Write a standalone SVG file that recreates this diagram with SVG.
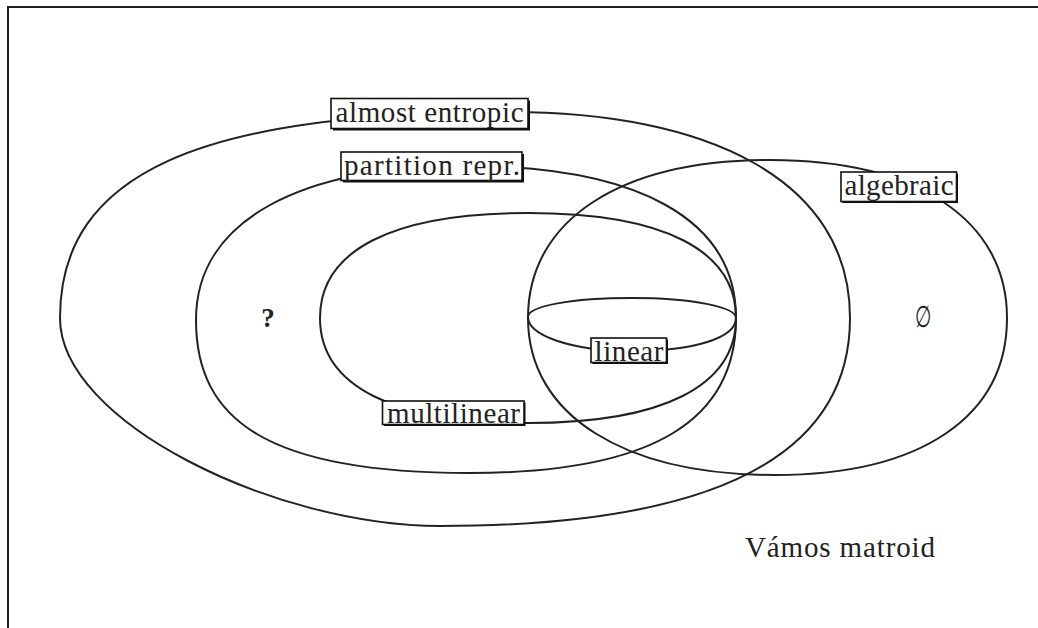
<svg xmlns="http://www.w3.org/2000/svg" width="1038" height="628" viewBox="0 0 1038 628">
<style>
.set{fill:none;stroke:#222;stroke-width:2}
.box{fill:#fff;stroke:#111;stroke-width:1.6}
.shadow{fill:#111}
.lbl{font-family:"Liberation Serif","DejaVu Serif",serif;font-size:29px;fill:#222;text-anchor:middle}
</style>
<rect width="1038" height="628" fill="#fff"/>
<path d="M8,628 V7 H1038" fill="none" stroke="#222" stroke-width="2"/>
<g id="almost-entropic">
<path class="set" d="M60,318 C60,173 200,112 510,112 C705,112 850,178 850,318 C850,448 730,526 440,526 C275,526 60,422 60,318 Z"/>
<rect class="shadow" x="333" y="100.5" width="197" height="30"/>
<rect class="box" x="331" y="98.5" width="197" height="30"/>
<text class="lbl" x="429.5" y="122" textLength="188" lengthAdjust="spacing">almost entropic</text>
</g>
<g id="partition-repr">
<path class="set" d="M196,320 C196,220 301,166 466,166 C636,166 736,218 736,318 C736,418 657,473 470,473 C267,473 196,420 196,320 Z"/>
<rect class="shadow" x="343" y="154" width="181" height="28.5"/>
<rect class="box" x="341" y="152" width="181" height="28.5"/>
<text class="lbl" x="432" y="175" textLength="176" lengthAdjust="spacing">partition repr.</text>
</g>
<g id="multilinear">
<path class="set" d="M320,318 C320,250 393,213 528,213 C663,213 736,250 736,318 C736,386 663,423 528,423 C393,423 320,386 320,318 Z"/>
<rect class="shadow" x="384" y="402.5" width="141.5" height="23.5"/>
<rect class="box" x="382.5" y="401" width="141.5" height="23.5"/>
<text class="lbl" x="453.5" y="422.5" textLength="133" lengthAdjust="spacing">multilinear</text>
</g>
<g id="algebraic">
<path class="set" d="M528,318 C528,220 620,160 770,160 C917,160 1007,220 1007,318 C1007,416 922,475 775,475 C625,475 528,416 528,318 Z"/>
<rect class="shadow" x="842.5" y="173.5" width="115.5" height="29.5"/>
<rect class="box" x="841" y="172" width="115.5" height="29.5"/>
<text class="lbl" x="899" y="194.5" textLength="109" lengthAdjust="spacing">algebraic</text>
</g>
<g id="linear">
<path class="set" d="M528,317 C528,306 572,298 632,298 C692,298 736,307 736,318 C736,338 694,351 632,351 C570,351 528,335 528,317 Z"/>
<rect class="shadow" x="592.5" y="339.5" width="75.5" height="24.5"/>
<rect class="box" x="591" y="338" width="75.5" height="24.5"/>
<text class="lbl" x="629" y="360.5" textLength="69" lengthAdjust="spacing">linear</text>
</g>
<g id="annotations">
<text class="lbl" x="268" y="327" style="font-weight:bold;font-size:27px">?</text>
<text class="lbl" transform="translate(923,327) scale(0.72,1.15)" x="0" y="0" style="font-size:26px">∅</text>
<text class="lbl" x="840" y="557" textLength="190" lengthAdjust="spacing">Vámos matroid</text>
</g>
</svg>
